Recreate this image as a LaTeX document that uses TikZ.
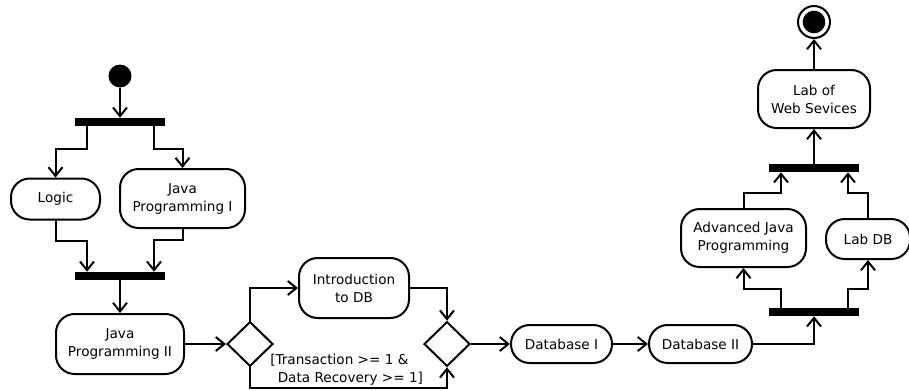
\documentclass[tikz,border=0pt]{standalone}
\usepackage{fontspec}
\setmainfont{DejaVu Sans}
\usetikzlibrary{arrows.meta,shapes.geometric,calc}

\tikzset{
  activity/.style={draw, line width=1.5pt, rounded corners=14pt, align=center,
    inner sep=2pt, font=\fontsize{10.2}{13.5}\selectfont},
  bar/.style={fill=black, draw=none, minimum width=67.5pt, minimum height=6pt, inner sep=0pt},
  decision/.style={draw, diamond, line width=1.5pt, minimum width=34.5pt,
    minimum height=33.5pt, inner sep=0pt},
  flow/.style={line width=1.5pt, -{Straight Barb[length=6.5pt,width=10.5pt]}},
  guard/.style={font=\fontsize{10.2}{13.5}\selectfont, align=left, inner sep=0pt}
}

\begin{document}
\begin{tikzpicture}[x=0.75pt, y=-0.75pt]
  \useasboundingbox (0,0) rectangle (909,390);

  % initial and final states
  \node[circle, fill=black, minimum size=17.25pt, inner sep=0pt] (start) at (120,76) {};
  \node[circle, draw, line width=1.5pt, minimum size=24pt, inner sep=0pt] (final) at (814,22) {};
  \node[circle, fill=black, minimum size=17pt, inner sep=0pt] (finaldot) at (final.center) {};

  % fork / join bars
  \node[bar] (fork1) at (120,122) {};
  \node[bar] (join1) at (120,276) {};
  \node[bar] (fork2) at (814,312) {};
  \node[bar] (join2) at (814,168) {};

  % activities
  \node[activity, minimum width=66.75pt, minimum height=30.75pt] (logic) at (55.5,199) {Logic};
  \node[activity, minimum width=93.75pt, minimum height=44.25pt] (java1) at (182.5,198.5) {Java\\Programming I};
  \node[activity, minimum width=96pt, minimum height=45pt] (java2) at (120,344) {Java\\Programming II};
  \node[activity, minimum width=82.5pt, minimum height=45pt] (intro) at (354,288) {Introduction\\to DB};
  \node[activity, minimum width=75.75pt, minimum height=28.5pt] (db1) at (561.5,344) {Database I};
  \node[activity, minimum width=77.25pt, minimum height=28.5pt] (db2) at (700.5,344) {Database II};
  \node[activity, minimum width=93.75pt, minimum height=43.5pt] (adv) at (743.5,238) {Advanced Java\\Programming};
  \node[activity, minimum width=63pt, minimum height=30pt] (labdb) at (868,239) {Lab DB};
  \node[activity, minimum width=84pt, minimum height=43.5pt] (web) at (814,99) {Lab of\\Web Sevices};

  % decision / merge
  \node[decision] (dec1) at (250,344) {};
  \node[decision] (dec2) at (447,344) {};

  % flows
  \draw[flow] (start) -- (fork1);
  \draw[flow] ($(fork1.south)+(-33,0)$) -- ++(0,23) -| (logic.north);
  \draw[flow] ($(fork1.south)+(34,0)$) -- ++(0,23) -| (java1.north);
  \draw[flow] (logic.south) -- ++(0,20) -| ($(join1.north)+(-33,0)$);
  \draw[flow] (java1.south) -- ++(0,11) -| ($(join1.north)+(34,0)$);
  \draw[flow] (join1) -- (java2);
  \draw[flow] (java2) -- (dec1);
  \draw[flow] (dec1.north) |- (intro.west);
  \draw[flow] (intro.east) -| (dec2.north);
  \draw[flow] (dec1.south) -- ++(0,21) -| (dec2.south);
  \node[guard, anchor=north west] (cond) at (270,354)
    {[Transaction >= 1 \&\\\hspace{0.55em}Data Recovery >= 1]};
  \draw[flow] (dec2) -- (db1);
  \draw[flow] (db1) -- (db2);
  \draw[flow] (db2.east) -| (fork2.south);
  \draw[flow] ($(fork2.north)+(-33,0)$) -- ++(0,-19) -| (adv.south);
  \draw[flow] ($(fork2.north)+(34,0)$) -- ++(0,-19) -| (labdb.south);
  \draw[flow] (adv.north) -- ++(0,-15) -| ($(join2.south)+(-33,0)$);
  \draw[flow] (labdb.north) -- ++(0,-25) -| ($(join2.south)+(34,0)$);
  \draw[flow] (join2) -- (web);
  \draw[flow] (web) -- (final);
\end{tikzpicture}
\end{document}
